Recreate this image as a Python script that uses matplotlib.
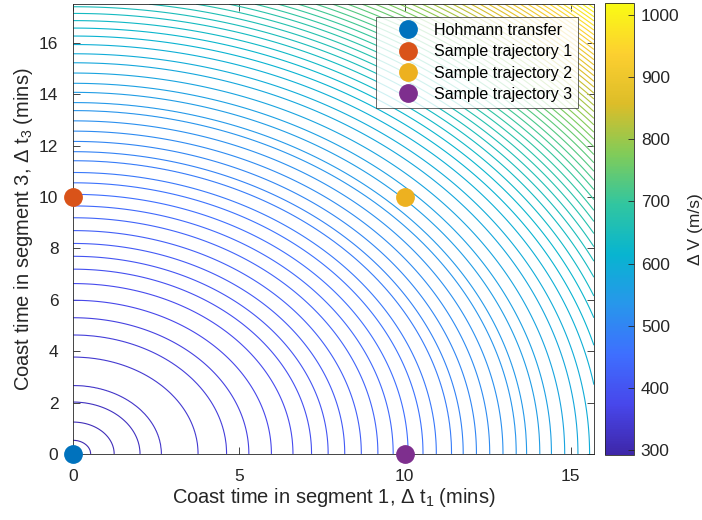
import numpy as np
import matplotlib.pyplot as plt
from matplotlib.colors import LinearSegmentedColormap

plt.rcParams['font.family'] = ['Liberation Sans', 'DejaVu Sans']
plt.rcParams['mathtext.fontset'] = 'custom'
plt.rcParams['mathtext.rm'] = 'Liberation Sans'

# delta-V range over the grid (m/s)
dv_min = 292.0
dv_max = 1019.0
n_levels = 72

# radius sqrt(t1^2 + t3^2) (mins) where each contour level sits, innermost first
ring_radius = [0.53, 1.24, 2.02, 2.66, 3.77, 4.63, 5.30, 5.98, 6.63, 7.19,
               7.69, 8.19, 8.69, 9.19, 9.65, 10.10, 10.55, 10.95, 11.41, 11.76,
               12.16, 12.56, 12.96, 13.36, 13.67, 14.07, 14.42, 14.82, 15.22, 15.57,
               15.93, 16.26, 16.57, 16.86, 17.14, 17.40, 17.65, 17.89, 18.12, 18.34,
               18.56, 18.77, 18.97, 19.17, 19.36, 19.55, 19.73, 19.91, 20.08, 20.26,
               20.42, 20.59, 20.75, 20.91, 21.06, 21.22, 21.37, 21.52, 21.66, 21.81,
               21.95, 22.09, 22.23, 22.37, 22.50, 22.64, 22.77, 22.90, 23.03, 23.15,
               23.28, 23.40]

# coast time grid (mins)
t1_max = 15.7
t3_max = 17.5

# trajectories marked on the map
traj_names = ['Hohmann transfer', 'Sample trajectory 1', 'Sample trajectory 2', 'Sample trajectory 3']
traj_t1 = [0, 0, 10, 10]
traj_t3 = [0, 10, 10, 0]
traj_colors = ['#0072BD', '#D95319', '#EDB120', '#7E2F8E']

# parula colormap, ten anchor colours
parula = LinearSegmentedColormap.from_list('parula', [
    (0.2422, 0.1504, 0.6603), (0.2803, 0.2782, 0.9221), (0.2440, 0.4358, 0.9988),
    (0.1540, 0.5902, 0.9218), (0.0297, 0.7082, 0.8163), (0.1938, 0.7758, 0.6251),
    (0.5044, 0.7993, 0.3480), (0.8634, 0.7406, 0.1596), (0.9892, 0.8136, 0.1885),
    (0.9769, 0.9839, 0.0805)])

levels = np.linspace(dv_min, dv_max, n_levels + 2)[1:-1]
corner_r = np.hypot(t1_max, t3_max) + 0.01
prof_r = np.concatenate([[0.0], ring_radius, [corner_r]])
prof_v = np.concatenate([[dv_min], levels, [dv_max]])

t1 = np.linspace(0, t1_max, 600)
t3 = np.linspace(0, t3_max, 600)
T1, T3 = np.meshgrid(t1, t3)
DV = np.interp(np.hypot(T1, T3), prof_r, prof_v)

fig = plt.figure(figsize=(7.02, 5.20), dpi=100)
ax = fig.add_axes([0.104, 0.127, 0.742, 0.865])
cax = fig.add_axes([0.862, 0.125, 0.041, 0.869])

cs = ax.contour(T1, T3, DV, levels=levels, cmap=parula, vmin=dv_min, vmax=dv_max,
                linewidths=0.8)

for name, x, y, c in zip(traj_names, traj_t1, traj_t3, traj_colors):
    ax.plot(x, y, 'o', color=c, markersize=12.5, label=name, clip_on=False, zorder=5)

ax.set_xlim(0, t1_max)
ax.set_ylim(0, t3_max)
ax.set_xticks([0, 5, 10, 15])
ax.set_yticks(np.arange(0, 17, 2))
gray = '#262626'
for s in ax.spines.values():
    s.set_color(gray)
    s.set_linewidth(0.6)
ax.tick_params(direction='in', top=True, right=True, colors=gray, labelsize=12.5,
               length=5, width=0.6, labelcolor=gray)
ax.tick_params(axis='x', pad=11)
ax.tick_params(axis='y', pad=10.5)
ax.set_xlabel('Coast time in segment 1, Δ t$\\mathregular{_1}$ (mins)', fontsize=14.5,
              color=gray, labelpad=1)
ax.set_ylabel('Coast time in segment 3, Δ t$\\mathregular{_3}$ (mins)', fontsize=14.5,
              color=gray, labelpad=3)

leg = ax.legend(loc='upper right', bbox_to_anchor=(0.969, 0.971), fontsize=11.5,
                frameon=True, fancybox=False, edgecolor=gray, handletextpad=0.0,
                borderpad=0.35, labelspacing=0.4, handlelength=3.3, borderaxespad=0)
leg.get_frame().set_linewidth(0.6)

sm = plt.cm.ScalarMappable(cmap=parula, norm=plt.Normalize(dv_min, dv_max))
cb = fig.colorbar(sm, cax=cax)
cb.set_ticks(np.arange(300, 1001, 100))
cb.outline.set_edgecolor(gray)
cb.outline.set_linewidth(0.6)
cax.tick_params(direction='in', colors=gray, labelsize=12.5, length=4, width=0.6,
                labelcolor=gray, pad=5)
cb.set_label('Δ V (m/s)', fontsize=12.5, color=gray, labelpad=6)

fig.savefig('out.png', dpi=100)
